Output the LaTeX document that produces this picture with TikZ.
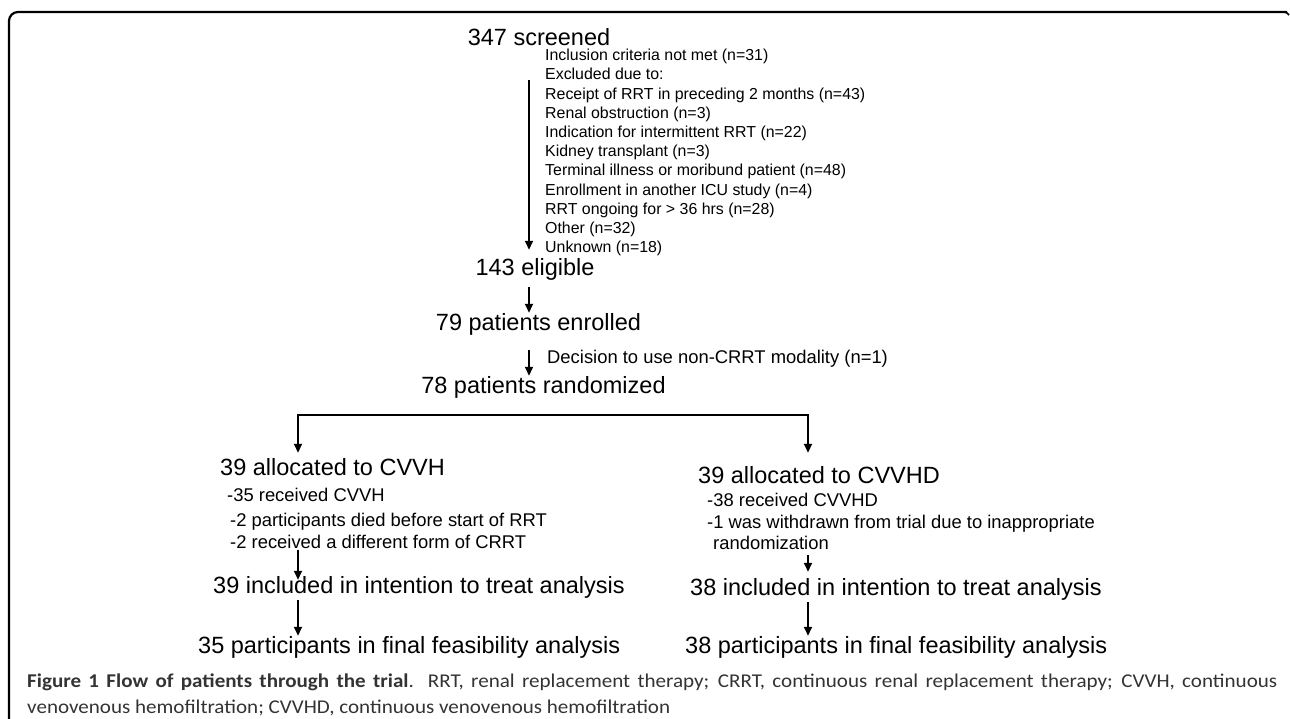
\documentclass[tikz,border=0pt]{standalone}
\usepackage{fontspec}
\setmainfont{Liberation Sans}
\newfontfamily\capfont[FakeStretch=1.08]{Carlito}
\usetikzlibrary{arrows.meta}

\tikzset{
  head/.style={font=\fontsize{23.5}{28}\selectfont, inner sep=0pt, anchor=base},
  headl/.style={head, anchor=base west},
  crit/.style={font=\fontsize{15.9}{19}\selectfont, inner sep=0pt, anchor=base west},
  sub/.style={font=\fontsize{18.4}{22}\selectfont, inner sep=0pt, anchor=base west},
  flow/.style={line width=1.8pt, -{Triangle[length=9pt,width=8pt]}},
  figcap/.style={font=\capfont\fontsize{19.5}{22}\selectfont, text=black!80, inner sep=0pt, anchor=base west}
}

\begin{document}
\begin{tikzpicture}[x=1pt, y=-1pt]
  \useasboundingbox (0,0) rectangle (1290,719);

  % frame
  \draw[line width=2.2pt, rounded corners=9pt] (9,725) -- (9,12) -- (1287,12);
  \draw[line width=1.6pt] (1284,12) to[out=0, in=130] (1289,15);

  % main column
  \node[head] (screened)   at (539,45.4)  {347 screened};
  \foreach \t [count=\i] in {Inclusion criteria not met (n=31),
      Excluded due to:,
      Receipt of RRT in preceding 2 months (n=43),
      Renal obstruction (n=3),
      Indication for intermittent RRT (n=22),
      Kidney transplant (n=3),
      Terminal illness or moribund patient (n=48),
      Enrollment in another ICU study (n=4),
      RRT ongoing for > 36 hrs (n=28),
      Other (n=32),
      Unknown (n=18)}
    \node[crit] (excl\i) at (545, {60.7+19.2*(\i-1)}) {\t};
  \node[head] (eligible)   at (535,276)   {143 eligible};
  \node[head] (enrolled)   at (538.5,330) {79 patients enrolled};
  \node[sub]  (noncrrt)    at (547,363.6) {Decision to use non-CRRT modality (n=1)};
  \node[head] (randomized) at (543.5,393) {78 patients randomized};

  % CVVH arm
  \node[headl] (cvvh) at (220,475) {39 allocated to CVVH};
  \node[sub] (cvvh1) at (227,501.6) {-35 received CVVH};
  \node[sub] (cvvh2) at (230,526.6) {-2 participants died before start of RRT};
  \node[sub] (cvvh3) at (230,548.6) {-2 received a different form of CRRT};
  \node[headl] (ittL)   at (213,593) {39 included in intention to treat analysis};
  \node[headl] (finalL) at (198,653) {35 participants in final feasibility analysis};

  % CVVHD arm
  \node[headl] (cvvhd) at (698,483) {39 allocated to CVVHD};
  \node[sub] (cvvhd1) at (707,506.6) {-38 received CVVHD};
  \node[sub] (cvvhd2) at (707,528.6) {-1 was withdrawn from trial due to inappropriate};
  \node[sub] (cvvhd3) at (713,549.6) {randomization};
  \node[headl] (ittR)   at (690,595) {38 included in intention to treat analysis};
  \node[headl] (finalR) at (685,653) {38 participants in final feasibility analysis};

  \coordinate (spine) at (529,80);
  \coordinate (splitL) at (298,415);
  \coordinate (splitR) at (808,415);

  \draw[flow, shorten >=9pt] (spine) -- (spine |- eligible.north);
  \draw[flow, shorten <=6pt] (eligible.south -| spine) -- (enrolled.north -| spine);
  \draw[flow, shorten <=15pt] (enrolled.south -| spine) -- (randomized.north -| spine);
  \draw[flow, {Triangle[length=9pt,width=8pt]}-{Triangle[length=9pt,width=8pt]},
        shorten <=5pt, shorten >=13pt]
    (cvvh.north -| splitL) -- (splitL) -- (splitR) -- (cvvhd.north -| splitR);
  \draw[flow, shorten <=1pt, shorten >=-4pt] (cvvh3.south -| splitL) -- (ittL.north -| splitL);
  \draw[flow, shorten <=2pt] (ittL.south -| splitL) -- (finalL.north -| splitL);
  \draw[flow, shorten <=5pt, shorten >=6pt] (cvvhd3.south -| splitR) -- (ittR.north -| splitR);
  \draw[flow, shorten <=2pt] (ittR.south -| splitR) -- (finalR.north -| splitR);

  % caption
  \node[figcap] (cap1) at (27,687) {\makebox[1250pt][s]{\bfseries Figure 1 Flow of patients through the trial\mdseries. RRT, renal replacement therapy; CRRT, continuous renal replacement therapy; CVVH, continuous}};
  \node[figcap] (cap2) at (27,713) {venovenous hemofiltration; CVVHD, continuous venovenous hemofiltration};
\end{tikzpicture}
\end{document}
